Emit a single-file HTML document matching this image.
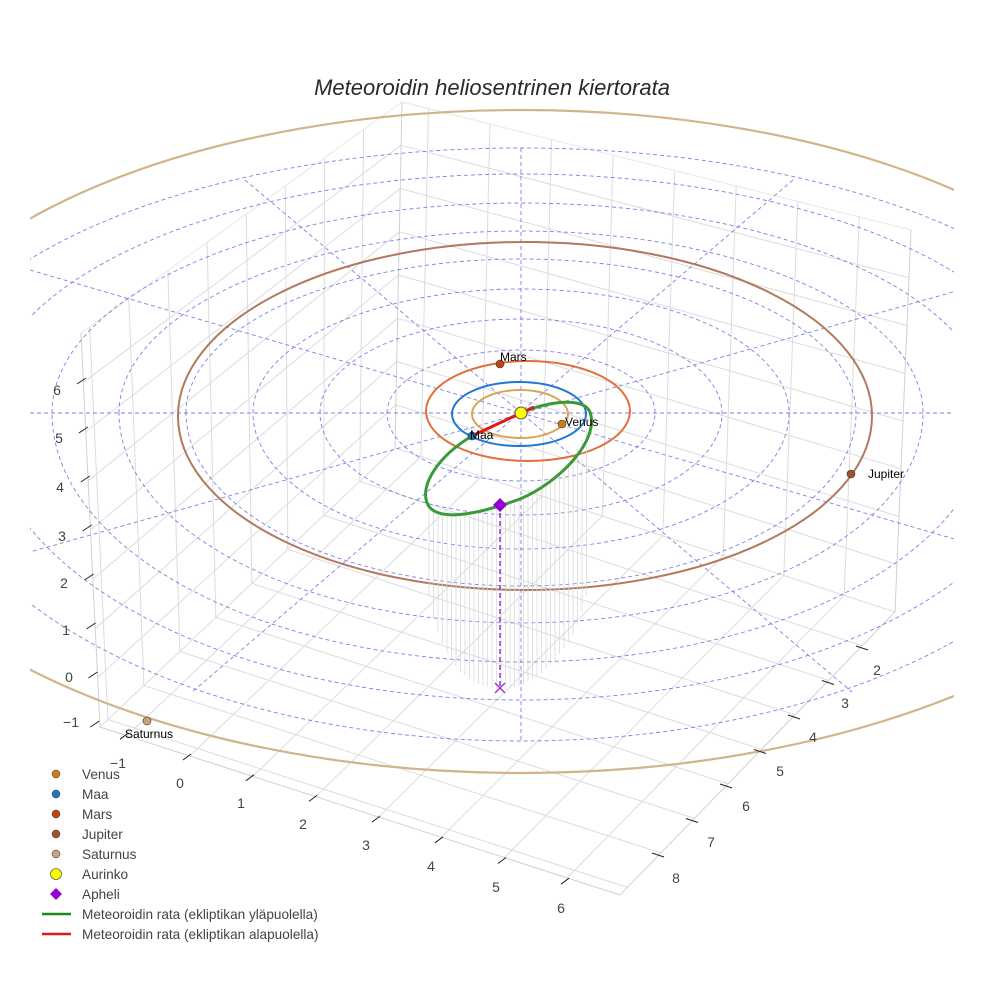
<!DOCTYPE html>
<html><head><meta charset="utf-8"><style>
html,body{margin:0;padding:0;background:#fff;}
svg{display:block;font-family:"Liberation Sans",sans-serif;}
</style></head><body>
<svg id="s" width="984" height="984" viewBox="0 0 984 984" xmlns="http://www.w3.org/2000/svg">
<rect width="984" height="984" fill="#fff"/>
<defs><clipPath id="c"><rect x="30" y="0" width="924" height="984"/></clipPath></defs>
<g id="grid" stroke="#dcdcdc" stroke-width="1" fill="none"></g>
<g id="rings" clip-path="url(#c)" stroke="#6060e0" stroke-width="0.9" stroke-dasharray="4,3" fill="none" opacity="0.8">
<line x1="30" y1="413" x2="954" y2="413"/>
<line x1="521" y1="148" x2="521" y2="741"/>
<line x1="245" y1="180" x2="852" y2="692"/>
<line x1="793" y1="180" x2="192" y2="692"/>
<line x1="30" y1="270" x2="954" y2="539"/>
<line x1="953" y1="292" x2="30" y2="552"/>
</g>
<g clip-path="url(#c)" fill="none">
<path d="M -119,413 A 640,303 0 0 1 1161,413" stroke="#d2b48c" stroke-width="2.2"/>
<path d="M -179,413 A 700,360 0 0 0 1221,413" stroke="#d2b48c" stroke-width="2.2"/>
</g>
<g fill="none" stroke-width="2">
<ellipse cx="525" cy="416" rx="347" ry="174" stroke="#b07a5e"/>
<ellipse cx="528" cy="411" rx="102" ry="50" stroke="#e0703c"/>
<ellipse cx="519" cy="414" rx="67" ry="32" stroke="#1f78d0"/>
<ellipse cx="520" cy="414" rx="48" ry="24" stroke="#d9a650"/>
</g>
<g id="drops" stroke="#d4d4d4" stroke-width="0.7"></g>
<line x1="500" y1="505" x2="500" y2="688" stroke="#9b30d0" stroke-width="1.5" stroke-dasharray="5,3"/>
<g stroke="#9b30d0" stroke-width="1.3"><line x1="495" y1="683" x2="505" y2="693"/><line x1="505" y1="683" x2="495" y2="693"/></g>
<path d="M472,436 C440,455 418,485 428,505 C440,525 490,510 520,499 C560,482 600,440 590,412 C583,396 545,402 521,413" fill="none" stroke="#3a9a3a" stroke-width="3"/>
<path d="M474,435 L521,413 L534,407" fill="none" stroke="#e01818" stroke-width="3"/>
<path d="M500,498 L507,505 L500,512 L493,505 Z" fill="#9400d3"/>
<g stroke="#333" stroke-width="0.6">
<circle cx="500" cy="364" r="4" fill="#c1440e"/>
<circle cx="562" cy="424" r="4" fill="#c87d1e"/>
<circle cx="472" cy="436" r="4" fill="#1f77b4"/>
<circle cx="851" cy="474" r="4" fill="#a0522d"/>
<circle cx="147" cy="721" r="4" fill="#c4a47c"/>
<circle cx="521" cy="413" r="6" fill="#ffff00" stroke="#555" stroke-width="1"/>
</g>
<g font-size="12" fill="#000">
<text x="500" y="361">Mars</text>
<text x="565" y="426">Venus</text>
<text x="470" y="439">Maa</text>
<text x="868" y="478">Jupiter</text>
<text x="125" y="738">Saturnus</text>
</g>
<text x="492" y="95" text-anchor="middle" font-size="22" font-style="italic" fill="#2a2a2a">Meteoroidin heliosentrinen kiertorata</text>
<g id="ticks" stroke="#222" stroke-width="1"></g>
<g font-size="14" fill="#444" text-anchor="middle">
<text x="57" y="395">6</text><text x="59" y="443">5</text><text x="60" y="492">4</text><text x="62" y="541">3</text><text x="64" y="588">2</text><text x="66" y="635">1</text><text x="69" y="682">0</text><text x="71" y="727">−1</text>
<text x="118" y="768">−1</text><text x="180" y="788">0</text><text x="241" y="808">1</text><text x="303" y="829">2</text><text x="366" y="850">3</text><text x="431" y="871">4</text><text x="496" y="892">5</text><text x="561" y="913">6</text>
<text x="877" y="675">2</text><text x="845" y="708">3</text><text x="813" y="742">4</text><text x="780" y="776">5</text><text x="746" y="811">6</text><text x="711" y="847">7</text><text x="676" y="883">8</text>
</g>
<g font-size="13.6" fill="#444">
<circle cx="56" cy="774" r="4" fill="#c87d1e" stroke="#333" stroke-width="0.5"/><text x="82" y="779">Venus</text>
<circle cx="56" cy="794" r="4" fill="#1f77b4" stroke="#333" stroke-width="0.5"/><text x="82" y="799">Maa</text>
<circle cx="56" cy="814" r="4" fill="#c1440e" stroke="#333" stroke-width="0.5"/><text x="82" y="819">Mars</text>
<circle cx="56" cy="834" r="4" fill="#a0522d" stroke="#333" stroke-width="0.5"/><text x="82" y="839">Jupiter</text>
<circle cx="56" cy="854" r="4" fill="#c4a47c" stroke="#333" stroke-width="0.5"/><text x="82" y="859">Saturnus</text>
<circle cx="56" cy="874" r="5.5" fill="#ffff00" stroke="#333" stroke-width="0.6"/><text x="82" y="879">Aurinko</text>
<path d="M56,888 L62,894 L56,900 L50,894 Z" fill="#9400d3"/><text x="82" y="899">Apheli</text>
<line x1="42" y1="914" x2="71" y2="914" stroke="#1a8a1a" stroke-width="2.5"/><text x="82" y="919">Meteoroidin rata (ekliptikan yläpuolella)</text>
<line x1="42" y1="934" x2="71" y2="934" stroke="#e01818" stroke-width="2.5"/><text x="82" y="939">Meteoroidin rata (ekliptikan alapuolella)</text>
</g>
</svg>
<script>
(function(){
var NS="http://www.w3.org/2000/svg";
function ln(g,a,b,extra){var e=document.createElementNS(NS,"line");e.setAttribute("x1",a[0].toFixed(1));e.setAttribute("y1",a[1].toFixed(1));e.setAttribute("x2",b[0].toFixed(1));e.setAttribute("y2",b[1].toFixed(1));if(extra)for(var k in extra)e.setAttribute(k,extra[k]);g.appendChild(e);}
function L(a,b,t){return [a[0]+(b[0]-a[0])*t,a[1]+(b[1]-a[1])*t];}
var Lp=[100,727],F=[620,895],R=[895,612],C=[395,448],Lt=[81,333],Ct=[402,102],Rt=[911,230];
var g=document.getElementById("grid");
function sx(x){return (x+1.43)/8.27;} function ty(y){return (9.22-y)/8.2;}
for(var x=-1;x<=6;x++){var s=sx(x);ln(g,L(Lp,F,s),L(C,R,s));}
for(var y=2;y<=9;y++){var t=ty(y);ln(g,L(Lp,C,t),L(F,R,t));}
for(var y=2;y<=9;y++){var t=ty(y);ln(g,L(Lp,C,t),L(Lt,Ct,t));}
for(var z=-1;z<=7;z++){var f=(z+1)/8;ln(g,L(Lp,Lt,f),L(C,Ct,f));}
for(var x=-1;x<=6;x++){var s=sx(x);ln(g,L(C,R,s),L(Ct,Rt,s));}
for(var z=-1;z<=7;z++){var f=(z+1)/8;ln(g,L(C,Ct,f),L(R,Rt,f));}
[[Lp,F],[F,R],[Lp,Lt],[C,Ct],[R,Rt]].forEach(function(p){ln(g,p[0],p[1],{stroke:"#d0d0d0"});});
[[Lt,Ct],[Ct,Rt]].forEach(function(p){ln(g,p[0],p[1],{stroke:"#ececec"});});
var rg=document.getElementById("rings");
var T=[[2,63,68],[3,94,102],[4,124,136],[5,154,173],[6,182,210],[7,210,249],[8,239,287],[9,265,328]];
T.forEach(function(r){var rx=67*r[0];var p=document.createElementNS(NS,"path");
p.setAttribute("d","M"+(521-rx)+",413 A"+rx+","+r[1]+" 0 0 1 "+(521+rx)+",413 A"+rx+","+r[2]+" 0 0 1 "+(521-rx)+",413");rg.appendChild(p);});
var top=[[428,500],[435,510],[445,514],[460,515],[480,511],[500,505],[520,499],[540,488],[555,478],[570,462],[580,445],[588,425]];
var bot=[[428,590],[435,625],[445,650],[460,672],[480,685],[500,690],[520,686],[540,675],[555,660],[570,640],[580,620],[588,590]];
function interp(tab,x){for(var i=0;i<tab.length-1;i++){if(x>=tab[i][0]&&x<=tab[i+1][0]){var u=(x-tab[i][0])/(tab[i+1][0]-tab[i][0]);return tab[i][1]+u*(tab[i+1][1]-tab[i][1]);}}return tab[tab.length-1][1];}
var dg=document.getElementById("drops");
for(var x=429;x<=588;x+=4.5){ln(dg,[x,interp(top,x)],[x,interp(bot,x)]);}
var tk=document.getElementById("ticks");
for(var i=0;i<8;i++){var y0=384+i*49;ln(tk,[77+i*1.9,y0],[86+i*1.9,y0-6]);}
for(var i=-1;i<=6;i++){var xx=187+i*63,yy=757+i*20.7;ln(tk,[xx-4,yy+3],[xx+4,yy-3]);}
for(var i=0;i<7;i++){var xx=862-i*34,yy=648+i*34.5;ln(tk,[xx-6,yy-2],[xx+6,yy+2]);}
})();
</script>
</body></html>
